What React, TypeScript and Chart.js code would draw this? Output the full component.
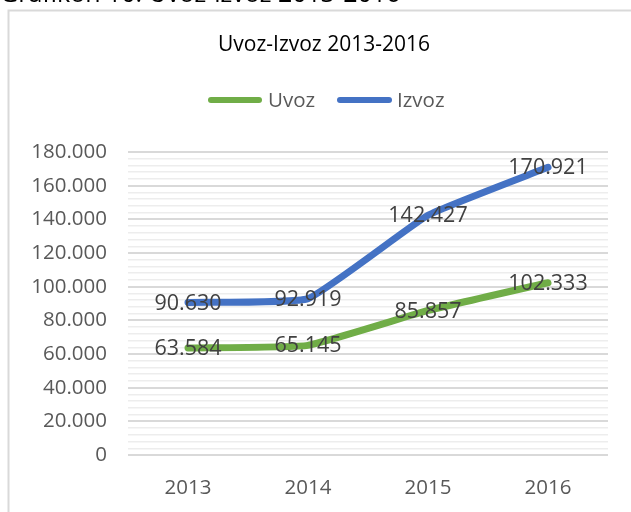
import React, { useEffect, useRef } from "react";
import { Chart, registerables } from "chart.js";

Chart.register(...registerables);

const categories = ["2013", "2014", "2015", "2016"];
const uvoz = [63584, 65145, 85857, 102333];
const izvoz = [90630, 92919, 142427, 170921];
const yTickValues = [0, 20000, 40000, 60000, 80000, 100000, 120000, 140000, 160000, 180000];
const chartTitle = "Uvoz-Izvoz 2013-2016";
const captionText = "Grafikon 10: Uvoz-izvoz 2013-2016";
const seriesNames = ["Uvoz", "Izvoz"];
const seriesColors = ["#70AD47", "#4472C4"];

const FONT = "'Open Sans', 'DejaVu Sans', sans-serif";

function fmt(v: number): string {
  return String(Math.round(v)).replace(/\B(?=(\d{3})+(?!\d))/g, ".");
}

const decorPlugin = {
  id: "decor",
  beforeDraw(chart: any) {
    const ctx = chart.ctx;
    ctx.save();
    ctx.fillStyle = "#FFFFFF";
    ctx.fillRect(0, 0, chart.width, chart.height);
    ctx.strokeStyle = "#D9D9D9";
    ctx.lineWidth = 2;
    ctx.strokeRect(8.5, 10.5, 700, 600);
    ctx.fillStyle = "#000000";
    ctx.font = `25px ${FONT}`;
    ctx.textAlign = "left";
    ctx.textBaseline = "alphabetic";
    ctx.fillText(captionText, 0, 2);
    ctx.fillStyle = "#000000";
    ctx.font = `21px ${FONT}`;
    ctx.textAlign = "center";
    ctx.textBaseline = "middle";
    ctx.fillText(chartTitle, 324, 45);
    const items = [
      { x1: 208, x2: 262, tx: 268 },
      { x1: 337, x2: 392, tx: 397 },
    ];
    items.forEach((it, i) => {
      ctx.strokeStyle = seriesColors[i];
      ctx.lineWidth = 6;
      ctx.lineCap = "round";
      ctx.beginPath();
      ctx.moveTo(it.x1 + 3, 100);
      ctx.lineTo(it.x2 - 3, 100);
      ctx.stroke();
      ctx.fillStyle = "#595959";
      ctx.font = `20.5px ${FONT}`;
      ctx.textAlign = "left";
      ctx.textBaseline = "middle";
      ctx.fillText(seriesNames[i], it.tx, 101);
    });
    ctx.restore();
  },
  afterDatasetsDraw(chart: any) {
    const ctx = chart.ctx;
    ctx.save();
    ctx.fillStyle = "#404040";
    ctx.font = `21.5px ${FONT}`;
    ctx.textAlign = "center";
    ctx.textBaseline = "middle";
    chart.data.datasets.forEach((ds: any, di: number) => {
      const meta = chart.getDatasetMeta(di);
      meta.data.forEach((pt: any, i: number) => {
        ctx.fillText(fmt(ds.data[i]), pt.x, pt.y + 1);
      });
    });
    ctx.restore();
  },
};

export default function App() {
  const ref = useRef<HTMLCanvasElement | null>(null);
  useEffect(() => {
    if (!ref.current) return;
    const mk = (i: number, data: number[]) => ({
      label: seriesNames[i],
      data,
      borderColor: seriesColors[i],
      backgroundColor: seriesColors[i],
      borderWidth: 7,
      borderCapStyle: "round",
      borderJoinStyle: "round",
      pointRadius: 0,
      tension: 0.12,
    });
    const chart = new Chart(ref.current, {
      type: "line",
      data: {
        labels: categories,
        datasets: [mk(0, uvoz), mk(1, izvoz)],
      },
      options: {
        responsive: false,
        animation: false,
        layout: { padding: { top: 152, right: 23, left: 0, bottom: 0 } },
        plugins: {
          legend: { display: false },
          title: { display: false },
          tooltip: { enabled: false },
        },
        scales: {
          x: {
            offset: true,
            grid: { display: false, drawTicks: false },
            border: { display: false },
            ticks: {
              color: "#595959",
              font: { family: FONT, size: 20.5 },
              padding: 21,
            },
            afterFit(scale: any) {
              scale.height = 57;
            },
          },
          y: {
            min: 0,
            max: 180000,
            border: { display: false },
            grid: {
              drawTicks: false,
              color: (c: any) =>
                c.tick && yTickValues.includes(c.tick.value) ? "#D9D9D9" : "#EDEDED",
              lineWidth: (c: any) =>
                c.tick && yTickValues.includes(c.tick.value) ? 2 : 1.5,
            },
            ticks: {
              stepSize: 4000,
              autoSkip: false,
              color: "#595959",
              font: { family: FONT, size: 20.5 },
              padding: 21,
              callback: (v: any) => (yTickValues.includes(Number(v)) ? fmt(Number(v)) : ""),
            },
            afterFit(scale: any) {
              scale.width = 128;
            },
          },
        },
      },
      plugins: [decorPlugin],
    } as any);
    return () => chart.destroy();
  }, []);
  return (
    <div style={{ position: "absolute", left: 0, top: 0, width: 631, height: 512 }}>
      <canvas ref={ref} width={631} height={512} style={{ width: 631, height: 512, display: "block" }} />
    </div>
  );
}
